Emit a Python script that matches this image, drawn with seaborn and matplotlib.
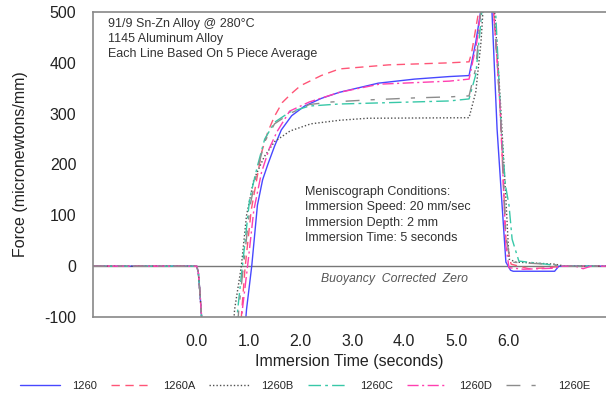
import numpy as np
import pandas as pd
import matplotlib
matplotlib.use("Agg")
import matplotlib.pyplot as plt
import seaborn as sns

# ---- data (time in s, force in micronewtons/mm) ----
t_1260 = [-2.0, 0.0, 0.03, 0.06, 0.10, 0.12, 0.90, 0.96, 1.06, 1.17, 1.27, 1.37, 1.50, 1.63, 1.83, 2.08, 2.40, 2.75, 3.50, 4.20, 4.87, 5.25, 5.38, 5.48, 5.55, 5.62, 5.69, 5.79, 5.88, 5.96, 6.05, 6.10, 6.90, 6.98, 7.89]
f_1260 = [0, 0, -12, -50, -110, -160, -160, -85, 0, 120, 170, 200, 236, 268, 296, 315, 330, 342, 360, 368, 373, 375, 441, 505, 560, 560, 505, 270, 130, 8, -8, -10, -10, 0, 0]

t_1260A = [-2.0, 0.0, 0.03, 0.06, 0.10, 0.12, 0.82, 0.87, 0.93, 1.05, 1.25, 1.37, 1.50, 1.65, 1.83, 2.00, 2.40, 2.75, 3.70, 4.87, 5.25, 5.30, 5.45, 5.55, 5.65, 5.72, 5.79, 5.85, 5.96, 6.06, 6.40, 6.80, 7.00, 7.89]
f_1260A = [0, 0, -12, -50, -110, -160, -160, -85, -5, 110, 224, 264, 295, 322, 340, 355, 375, 388, 396, 400, 402, 420, 510, 560, 560, 505, 407, 309, 53, 4, -5, -3, 0, 0]

t_1260B = [-2.0, 0.0, 0.03, 0.06, 0.10, 0.12, 0.68, 0.73, 0.86, 0.96, 1.10, 1.30, 1.50, 1.80, 2.20, 2.75, 3.30, 5.25, 5.38, 5.48, 5.52, 5.58, 5.66, 5.74, 5.85, 5.96, 6.02, 6.15, 6.90, 7.10, 7.89]
f_1260B = [0, 0, -12, -50, -110, -160, -160, -85, 0, 100, 170, 215, 245, 266, 280, 287, 291, 292, 343, 441, 505, 560, 560, 505, 330, 132, 14, 8, 4, 0, 0]

t_1260C = [-2.0, 0.0, 0.03, 0.06, 0.10, 0.12, 0.74, 0.79, 0.88, 1.02, 1.17, 1.31, 1.50, 1.79, 2.17, 2.75, 4.87, 5.25, 5.38, 5.50, 5.60, 5.70, 5.76, 5.87, 5.95, 6.02, 6.08, 6.21, 6.73, 7.00, 7.89]
f_1260C = [0, 0, -12, -50, -110, -160, -160, -85, 0, 132, 197, 250, 283, 303, 315, 319, 325, 329, 377, 505, 560, 560, 505, 270, 160, 120, 53, 10, 4, 0, 0]

t_1260D = [-2.0, 0.0, 0.03, 0.06, 0.10, 0.12, 0.83, 0.88, 0.98, 1.10, 1.25, 1.40, 1.55, 1.79, 2.17, 2.75, 3.52, 4.87, 5.25, 5.40, 5.48, 5.55, 5.65, 5.72, 5.79, 5.85, 5.96, 6.02, 6.30, 6.90, 7.00, 7.30, 7.45, 7.60, 7.89]
f_1260D = [0, 0, -12, -50, -110, -160, -160, -85, 0, 110, 185, 232, 265, 305, 323, 342, 358, 364, 368, 441, 505, 560, 560, 505, 407, 309, 40, -3, -6, -4, 0, 0, -5, 0, 0]

t_1260E = [-2.0, 0.0, 0.03, 0.06, 0.10, 0.12, 0.76, 0.81, 0.90, 1.03, 1.17, 1.31, 1.50, 1.79, 2.17, 2.60, 3.30, 4.20, 4.87, 5.25, 5.38, 5.48, 5.55, 5.65, 5.72, 5.80, 5.88, 5.96, 6.05, 6.90, 7.00, 7.89]
f_1260E = [0, 0, -12, -50, -110, -160, -160, -85, 0, 120, 190, 245, 280, 300, 318, 323, 327, 331, 333, 335, 390, 505, 560, 560, 505, 390, 250, 60, 8, 3, 0, 0]

series_names = ["1260", "1260A", "1260B", "1260C", "1260D", "1260E"]
series_t = [t_1260, t_1260A, t_1260B, t_1260C, t_1260D, t_1260E]
series_f = [f_1260, f_1260A, f_1260B, f_1260C, f_1260D, f_1260E]

x_tick_values = [-1, 0, 1, 2, 3, 4, 5, 6, 7]
x_tick_labels = ["", "0.0", "1.0", "2.0", "3.0", "4.0", "5.0", "6.0", ""]
y_tick_values = [-100, 0, 100, 200, 300, 400, 500]

# ---- long table ----
frames = []
for name, t, f in zip(series_names, series_t, series_f):
    frames.append(pd.DataFrame({"time": t, "force": f, "series": name}))
df = pd.concat(frames, ignore_index=True)

palette = {"1260": "#4848ff", "1260A": "#ff5577", "1260B": "#505050",
           "1260C": "#38c8a8", "1260D": "#ff3fb0", "1260E": "#8c8c8c"}
dashes = {"1260": "", "1260A": (6, 4), "1260B": (1, 1.5),
          "1260C": (9, 3, 2, 3), "1260D": (8, 2.5, 1.5, 2.5), "1260E": (10, 8, 3, 8)}

sns.set_theme(style="white")
plt.rcParams["font.family"] = ["Liberation Sans", "DejaVu Sans"]
plt.rcParams["axes.unicode_minus"] = False

fig = plt.figure(figsize=(6.06, 3.97), dpi=100)
ax = fig.add_axes([93 / 606, 1 - 317 / 397, (606 - 93) / 606, (317 - 12) / 397])

ax.axhline(0, color="#777777", lw=1.0, zorder=1)

sns.lineplot(data=df, x="time", y="force", hue="series", style="series",
             palette=palette, dashes=dashes, hue_order=series_names,
             style_order=series_names, estimator=None, sort=False,
             lw=1.0, ax=ax, legend=True)

ax.set_xlim(-2.0, 7.89)
ax.set_ylim(-100, 500)
ax.set_xticks(x_tick_values)
ax.set_xticklabels(x_tick_labels)
ax.set_yticks(y_tick_values)
ax.tick_params(axis="both", direction="in", length=6, width=1, color="#777777",
               labelsize=11.5, labelcolor="#222222")
ax.tick_params(axis="y", pad=12)
ax.tick_params(axis="x", pad=12)

for s in ["top", "left", "bottom"]:
    ax.spines[s].set_visible(True)
    ax.spines[s].set_color("#888888")
    ax.spines[s].set_linewidth(1.2)
ax.spines["right"].set_visible(False)

ax.set_xlabel("Immersion Time (seconds)", fontsize=11.5, color="#222222", labelpad=4)
ax.set_ylabel("Force (micronewtons/mm)", fontsize=11.5, color="#222222", labelpad=12)

# annotations
ax.text(0.029, 0.98, "91/9 Sn-Zn Alloy @ 280°C\n1145 Aluminum Alloy\nEach Line Based On 5 Piece Average",
        transform=ax.transAxes, fontsize=9, color="#333333", va="top", ha="left",
        linespacing=1.3)
ax.text(0.414, 0.43, "Meniscograph Conditions:\nImmersion Speed: 20 mm/sec\nImmersion Depth: 2 mm\nImmersion Time: 5 seconds",
        transform=ax.transAxes, fontsize=9, color="#333333", va="top", ha="left",
        linespacing=1.38)
ax.text(2.4, -25, "Buoyancy  Corrected  Zero", fontsize=8.8, style="italic",
        color="#555555", va="center", ha="left")

leg = ax.legend(loc="center left", bbox_to_anchor=(20 / 606, 1 - 386 / 397),
                bbox_transform=fig.transFigure, borderpad=0, borderaxespad=0,
                ncol=6, frameon=False, fontsize=8, handlelength=3.6,
                columnspacing=1.25, handletextpad=1.1)
for h in leg.get_lines():
    h.set_linewidth(1.0)

fig.savefig("out.png", dpi=100)
